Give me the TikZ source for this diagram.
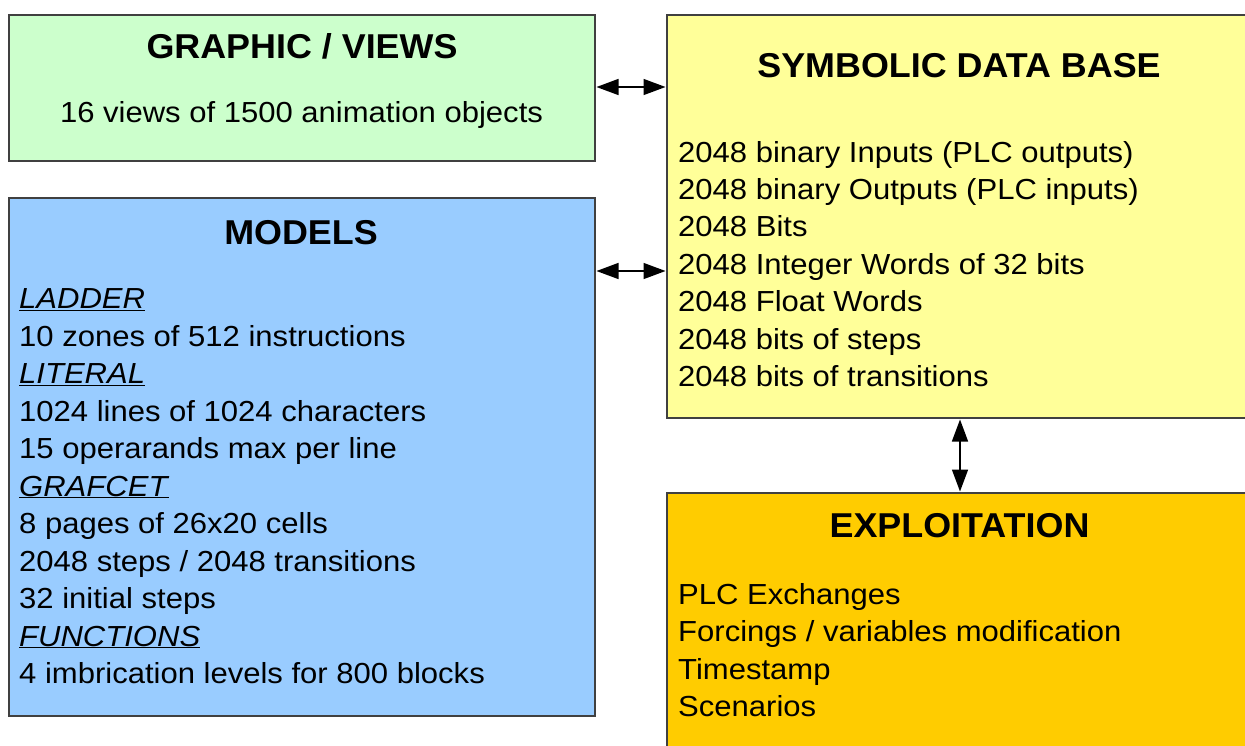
\documentclass[tikz,border=0pt]{standalone}
\usepackage{fontspec}
\setmainfont{Liberation Sans}
\newfontfamily\bodyfont[FakeStretch=1.07]{Liberation Sans}
\newfontfamily\headfont[FakeStretch=1.04]{Liberation Sans}
\usetikzlibrary{arrows.meta}
\definecolor{cgreen}{HTML}{CCFFCC}
\definecolor{cblue}{HTML}{99CCFF}
\definecolor{cyellow}{HTML}{FFFF99}
\definecolor{corange}{HTML}{FFCC00}
\definecolor{boxline}{HTML}{404040}
\newcommand\hd[1]{\underline{\textit{#1}}}
\begin{document}
\begin{tikzpicture}[x=1pt,y=-1pt,
  box/.style={draw=boxline, line width=2pt, inner sep=0pt, outer sep=0pt, anchor=north west},
  title/.style={font=\headfont\fontsize{34.5}{40}\selectfont\bfseries, anchor=base, inner sep=0pt},
  body/.style={font=\bodyfont\fontsize{29}{37}\selectfont, anchor=base west, inner sep=0pt},
  bodyc/.style={font=\bodyfont\fontsize{29}{37}\selectfont, anchor=base, inner sep=0pt},
  link/.style={{Triangle[length=22pt,width=16pt]}-{Triangle[length=22pt,width=16pt]}, line width=1.5pt, shorten >=1.5pt, shorten <=1.5pt}]
\useasboundingbox (0,0) rectangle (1245,745);
\fill[white] (0,0) rectangle (1245,745);
% boxes
\node[box, fill=cgreen, minimum width=586pt, minimum height=146pt] (graphic) at (9,15) {};
\node[box, fill=cblue, minimum width=586pt, minimum height=518pt] (models) at (9,198) {};
\node[box, fill=cyellow, minimum width=584pt, minimum height=403pt] (symb) at (667,15) {};
\node[box, fill=corange, minimum width=584pt, minimum height=267pt] (expl) at (667,493) {};
% titles
\node[title] (tg) at (302,58.3) {GRAPHIC / VIEWS};
\node[bodyc] (g1) at (301.5,122.3) {16 views of 1500 animation objects};
\node[title] (ts) at (959,77.7) {SYMBOLIC DATA BASE};
\node[title] (tm) at (301,244) {MODELS};
\node[title] (te) at (959.5,537.7) {EXPLOITATION};
% symbolic data base lines
\foreach \t [count=\i from 0] in {2048 binary Inputs (PLC outputs),2048 binary Outputs (PLC inputs),2048 Bits,2048 Integer Words of 32 bits,2048 Float Words,2048 bits of steps,2048 bits of transitions}
  \node[body] (s\i) at (678,162+37.4*\i) {\t};
% models lines
\foreach \t [count=\i from 0] in {\hd{LADDER},10 zones of 512 instructions,\hd{LITERAL},1024 lines of 1024 characters,15 operarands max per line,\hd{GRAFCET},8 pages of 26x20 cells,2048 steps / 2048 transitions,32 initial steps,\hd{FUNCTIONS},4 imbrication levels for 800 blocks}
  \node[body] (m\i) at (19,308.5+37.5*\i) {\t};
% exploitation lines
\foreach \t [count=\i from 0] in {PLC Exchanges,Forcings / variables modification,Timestamp,Scenarios}
  \node[body] (e\i) at (678,604.3+37.4*\i) {\t};
% connectors
\draw[link] (graphic.east |- {0,87}) -- (symb.west |- {0,87});
\draw[link] (models.east |- {0,271}) -- (symb.west |- {0,271});
\draw[link] (symb.south -| {960,0}) -- (expl.north -| {960,0});
\end{tikzpicture}
\end{document}
